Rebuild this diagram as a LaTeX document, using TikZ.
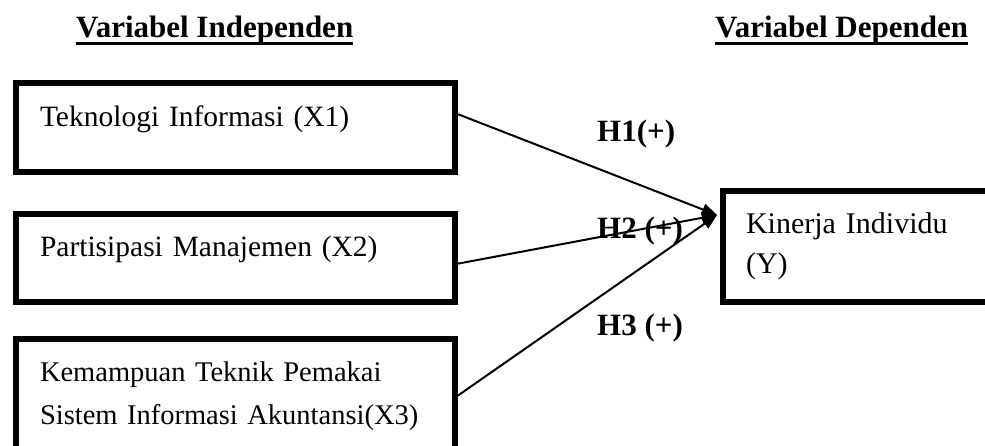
\documentclass[tikz,border=0pt]{standalone}
\usepackage{fontspec}
\setmainfont{Liberation Serif}
\usetikzlibrary{arrows.meta,calc,positioning}

\tikzset{
    varbox/.style={draw, line width=6pt, rectangle, anchor=north west, align=left,
        inner xsep=24pt, inner ysep=0pt, font=\fontsize{29.5}{43}\selectfont},
    conn/.style={line width=2pt, -{Triangle[length=15pt,width=12pt]}},
    hlabel/.style={anchor=base west, inner sep=0pt, font=\fontsize{31}{36}\selectfont\bfseries},
    uline/.style={line width=3pt}
}

\begin{document}
\begin{tikzpicture}[x=1pt, y=-1pt]
    \useasboundingbox (0,0) rectangle (985,445);

    % Headers
    \node[hlabel] (hind) at (76,37) {Variabel Independen};
    \node[hlabel] (hdep) at (715,37) {Variabel Dependen};
    \draw[uline] ([yshift=-6pt]hind.base west) -- ([yshift=-6pt]hind.base east);
    \draw[uline] ([yshift=-6pt]hdep.base west) -- ([yshift=-6pt]hdep.base east);

    % Independent variables
    \node[varbox, text width=391pt, text height=43pt, text depth=46pt] (x1) at (13,80)
        {Teknologi Informasi (X1)};
    \node[varbox, text width=391pt, text height=42pt, text depth=46pt] (x2) at (13,211)
        {Partisipasi Manajemen (X2)};
    \node[varbox, text width=391pt, text height=42pt, text depth=92pt,
        font=\fontsize{28.5}{43}\selectfont] (x3) at (13,336)
        {\mbox{Kemampuan Teknik Pemakai}\\\mbox{Sistem Informasi Akuntansi(X3)}};

    % Dependent variable
    \node[varbox, inner xsep=23pt, text width=234pt, text height=42pt, text depth=69pt,
        font=\fontsize{30}{40}\selectfont] (y) at (720,188)
        {Kinerja Individu\\(Y)};

    % Arrows meet in one point on the left side of Y
    \coordinate (hub) at (717,215);
    \draw[conn] ($(x1.north east)!0.36!(x1.south east)$) -- (hub);
    \draw[conn] ($(x2.north east)!0.56!(x2.south east)$) -- (hub);
    \draw[conn] ($(x3.north east)!0.425!(x3.south east)$) -- (hub);

    % Hypotheses
    \node[hlabel] (h1) at (597,141) {H1(+)};
    \node[hlabel] (h2) at (597,238) {H2 (+)};
    \node[hlabel] (h3) at (597,335) {H3 (+)};
\end{tikzpicture}
\end{document}
